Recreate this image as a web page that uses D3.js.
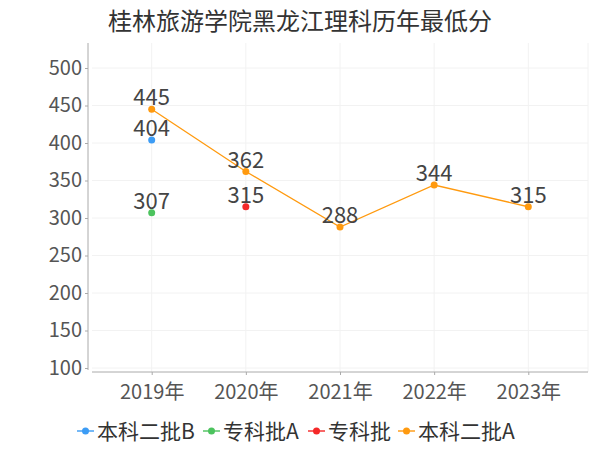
<!DOCTYPE html>
<html>
<head>
<meta charset="utf-8">
<script src="https://cdn.jsdelivr.net/npm/d3@7"></script>
<style>
  body { margin: 0; background: #fff; }
  text { font-family: "Noto Sans CJK SC", "Noto Sans", sans-serif; }
</style>
</head>
<body>
<script>
// data
var years = ["2019年", "2020年", "2021年", "2022年", "2023年"];
var seriesNames = ["本科二批B", "专科批A", "专科批", "本科二批A"];
var seriesColors = ["#3c9cf5", "#4cc35e", "#f52828", "#ff9a0f"];
var benB = [404, null, null, null, null];
var zhuanA = [307, null, null, null, null];
var zhuan = [null, 315, null, null, null];
var benA = [445, 362, 288, 344, 315];
var yTicks = [100, 150, 200, 250, 300, 350, 400, 450, 500];

var allSeries = [benB, zhuanA, zhuan, benA];

var W = 600, H = 450;
var svg = d3.select("body").append("svg")
  .attr("width", W).attr("height", H);

// title
svg.append("text")
  .attr("x", 300).attr("y", 30)
  .attr("text-anchor", "middle")
  .style("font-size", "24px")
  .style("fill", "#333")
  .text("桂林旅游学院黑龙江理科历年最低分");

var x = d3.scalePoint().domain(years).range([92, 588]).padding(0.634);
var y = d3.scaleLinear().domain([100, 500]).range([368, 68]);

// grid
svg.append("g").selectAll("line").data(yTicks).enter().append("line")
  .attr("x1", 92).attr("x2", 588)
  .attr("y1", function(d) { return y(d); }).attr("y2", function(d) { return y(d); })
  .style("stroke", "#f2f2f2");
svg.append("g").selectAll("line").data(years).enter().append("line")
  .attr("x1", function(d) { return x(d); }).attr("x2", function(d) { return x(d); })
  .attr("y1", 43).attr("y2", 372)
  .style("stroke", "#f2f2f2");
svg.append("line").attr("x1", 588).attr("x2", 588).attr("y1", 43).attr("y2", 372)
  .style("stroke", "#f2f2f2");

// y axis
var yAxis = svg.append("g")
  .attr("transform", "translate(88,0)")
  .call(d3.axisLeft(y).tickValues(yTicks).tickSize(3).tickPadding(3));
yAxis.select(".domain").remove();
yAxis.append("line").attr("x1", 0).attr("x2", 0).attr("y1", 43).attr("y2", 370)
  .style("stroke", "#aaa");
yAxis.selectAll(".tick line").style("stroke", "#aaa");
yAxis.selectAll(".tick text")
  .style("font-size", "20px").style("fill", "#555");

// x axis
var xAxis = svg.append("g")
  .attr("transform", "translate(0,372)")
  .call(d3.axisBottom(x).tickSize(3).tickPadding(10));
xAxis.select(".domain").remove();
xAxis.append("line").attr("x1", 92).attr("x2", 588).attr("y1", 0).attr("y2", 0)
  .style("stroke", "#aaa");
xAxis.selectAll(".tick line").style("stroke", "#aaa");
xAxis.selectAll(".tick text").style("font-size", "20px").style("fill", "#555");

// series
var line = d3.line()
  .defined(function(d) { return d != null; })
  .x(function(d, i) { return x(years[i]); })
  .y(function(d) { return y(d); });

allSeries.forEach(function(s, k) {
  var g = svg.append("g");
  g.append("path")
    .attr("d", line(s))
    .attr("fill", "none")
    .attr("stroke", seriesColors[k])
    .attr("stroke-width", 1.3);
  var pts = s.map(function(v, i) { return {v: v, i: i}; })
    .filter(function(d) { return d.v != null; });
  g.selectAll("circle").data(pts).enter().append("circle")
    .attr("cx", function(d) { return x(years[d.i]); })
    .attr("cy", function(d) { return y(d.v); })
    .attr("r", 3.5)
    .attr("fill", seriesColors[k]);
  g.selectAll("text").data(pts).enter().append("text")
    .attr("x", function(d) { return x(years[d.i]); })
    .attr("y", function(d) { return y(d.v) - 4; })
    .attr("text-anchor", "middle")
    .style("font-size", "22px")
    .style("fill", "#444")
    .text(function(d) { return d.v; });
});

// legend
var legendX = [77, 203, 308, 398];
var legend = svg.append("g").selectAll("g").data(seriesNames).enter().append("g")
  .attr("transform", function(d, i) { return "translate(" + legendX[i] + ",431)"; });
legend.append("line")
  .attr("x1", 0).attr("x2", 17).attr("y1", 0).attr("y2", 0)
  .style("stroke", function(d, i) { return seriesColors[i]; })
  .style("stroke-width", 2).style("opacity", 0.7);
legend.append("circle")
  .attr("cx", 8.5).attr("cy", 0).attr("r", 3.5)
  .attr("fill", function(d, i) { return seriesColors[i]; });
legend.append("text")
  .attr("x", 20).attr("y", 8)
  .style("font-size", "21px").style("fill", "#333")
  .text(function(d) { return d; });
</script>
</body>
</html>
